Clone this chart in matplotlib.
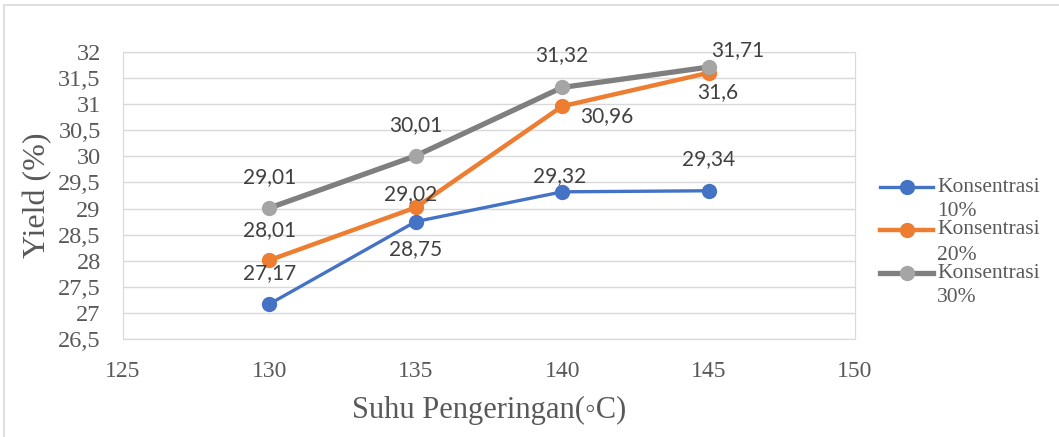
import matplotlib
matplotlib.use("Agg")
import matplotlib.pyplot as plt
from matplotlib.lines import Line2D
from matplotlib.ticker import FuncFormatter, MultipleLocator

suhu = [130, 135, 140, 145]
k10 = [27.17, 28.75, 29.32, 29.34]
k20 = [28.01, 29.02, 30.96, 31.6]
k30 = [29.01, 30.01, 31.32, 31.71]
labels10 = ["27,17", "28,75", "29,32", "29,34"]
labels20 = ["28,01", "29,02", "30,96", "31,6"]
labels30 = ["29,01", "30,01", "31,32", "31,71"]
series_names = ["Konsentrasi", "Konsentrasi", "Konsentrasi"]
series_pct = ["10%", "20%", "30%"]

W, H = 1059, 437
fig = plt.figure(figsize=(W / 100, H / 100), dpi=100)
ax = fig.add_axes([0.1161, 0.2243, 0.6913, 0.6568])

# outer frame
fig.patches.append(plt.Rectangle((0.004, -0.1), 1.2, 1.088, transform=fig.transFigure,
                                 fill=False, edgecolor="#d9d9d9", lw=1.2))

serif = "Liberation Serif"
sans = "Lato"
tc = "#595959"

styles = [
    dict(color="#4472C4", lw=2.4, mfc="#4472C4", mec="#4472C4"),
    dict(color="#ED7D31", lw=3.2, mfc="#ED7D31", mec="#ED7D31"),
    dict(color="#7F7F7F", lw=3.8, mfc="#A5A5A5", mec="#A5A5A5"),
]
for i, ys in enumerate([k10, k20, k30]):
    ax.plot(suhu, ys, marker="o", ms=10, zorder=3 + i, **styles[i])

ax.set_xlim(125, 150)
ax.set_ylim(26.5, 32)
ax.yaxis.set_major_locator(MultipleLocator(0.5))
ax.xaxis.set_major_locator(MultipleLocator(5))
fmt = FuncFormatter(lambda v, p: ("%g" % v).replace(".", ","))
ax.yaxis.set_major_formatter(fmt)
ax.grid(axis="y", color="#d9d9d9", lw=1)
ax.set_axisbelow(True)
for s in ax.spines.values():
    s.set_color("#d9d9d9")
ax.tick_params(length=0, labelcolor=tc)
ax.tick_params(axis="y", labelsize=17.5, pad=16)
ax.tick_params(axis="x", labelsize=17, pad=16)
for t in ax.get_xticklabels() + ax.get_yticklabels():
    t.set_fontfamily(serif)

ax.set_ylabel("Yield (%)", fontsize=23, family=serif, color=tc, labelpad=4)
ax.set_xlabel("Suhu Pengeringan(◦C)", fontsize=22, family=[serif, "DejaVu Sans"], color=tc, labelpad=10)

def lab(xs, ys, texts, offs):
    for x, y, t, o in zip(xs, ys, texts, offs):
        ax.annotate(t, (x, y), xytext=o, textcoords="offset points", ha="center", va="center",
                    fontsize=15, family=sans, color="#404040", zorder=7)

lab(suhu, k10, labels10, [(0, 22), (0, -20), (-2, 11.5), (0, 23)])
lab(suhu, k20, labels20, [(0, 22), (-3.5, 9.5), (32, -7), (6.5, -14)])
lab(suhu, k30, labels30, [(0, 22), (0, 22), (0, 23), (21, 12)])

# legend (drawn by hand to mimic wrapped Excel labels)
leg_y = [187, 230, 273]
for i, yy in enumerate(leg_y):
    yf = 1 - yy / H
    fig.lines.append(Line2D([880 / W, 933 / W], [yf, yf], transform=fig.transFigure,
                            color=styles[i]["color"], lw=styles[i]["lw"]))
    fig.lines.append(Line2D([906.5 / W], [yf], transform=fig.transFigure, marker="o", ms=10,
                            ls="none", mfc=styles[i]["mfc"], mec=styles[i]["mec"]))
    fig.text(937 / W, yf, series_names[i], family=serif, fontsize=15.5, color=tc,
             ha="left", va="center")
    fig.text(937 / W, 1 - (yy + 25) / H, series_pct[i], family=serif, fontsize=15.5, color=tc,
             ha="left", va="center")

fig.savefig("out.png", dpi=100)
